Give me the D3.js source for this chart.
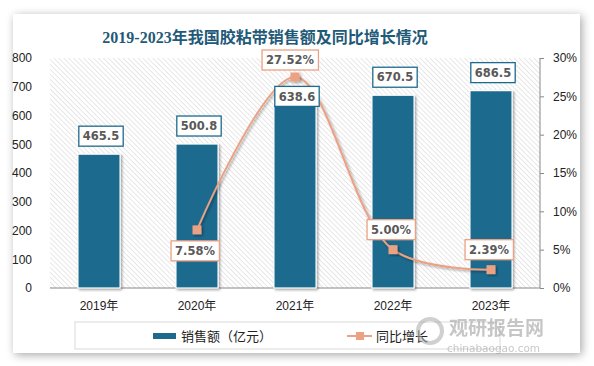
<!DOCTYPE html>
<html>
<head>
<meta charset="utf-8">
<script src="https://cdn.jsdelivr.net/npm/d3@7"></script>
<style>
  body { margin: 0; background: #fff; }
  svg { display: block; }
</style>
</head>
<body>
<svg id="chart" width="594" height="366"></svg>
<script>
// data
const years     = ["2019年", "2020年", "2021年", "2022年", "2023年"];
const sales     = [465.5, 500.8, 638.6, 670.5, 686.5];
const growth    = [null, 7.58, 27.52, 5.00, 2.39];
const leftTicks  = [0, 100, 200, 300, 400, 500, 600, 700, 800];
const rightTicks = [0, 5, 10, 15, 20, 25, 30];

const barColor  = "#1d6a8e";
const lineColor = "#eba183";

const svg = d3.select("#chart");
const defs = svg.append("defs");

// card shadow
const f = defs.append("filter").attr("id", "shadow")
  .attr("x", "-10%").attr("y", "-10%").attr("width", "120%").attr("height", "120%");
f.append("feGaussianBlur").attr("in", "SourceAlpha").attr("stdDeviation", 5);
f.append("feOffset").attr("dx", 2).attr("dy", 2).attr("result", "b");
f.append("feComponentTransfer").append("feFuncA").attr("type", "linear").attr("slope", 0.35);
const fm = f.append("feMerge");
fm.append("feMergeNode");
fm.append("feMergeNode").attr("in", "SourceGraphic");

// small shadow for marks
const f2 = defs.append("filter").attr("id", "mshadow")
  .attr("x", "-30%").attr("y", "-30%").attr("width", "160%").attr("height", "160%");
f2.append("feDropShadow").attr("dx", 1.5).attr("dy", 1.5).attr("stdDeviation", 1.2)
  .attr("flood-color", "#000").attr("flood-opacity", 0.35);

// hatch pattern
const pat = defs.append("pattern").attr("id", "hatch")
  .attr("patternUnits", "userSpaceOnUse").attr("width", 3.5).attr("height", 3.5)
  .attr("patternTransform", "rotate(-45)");
pat.append("line").attr("x1", 0).attr("y1", 0).attr("x2", 0).attr("y2", 3.5)
  .attr("stroke", "#cfcfcf").attr("stroke-width", 1);

// card
svg.append("rect")
  .attr("x", 13).attr("y", 14).attr("width", 567).attr("height", 339)
  .attr("fill", "#fff").attr("filter", "url(#shadow)");

// title
svg.append("text")
  .attr("x", 265).attr("y", 43)
  .attr("text-anchor", "middle")
  .style("font-family", "'Liberation Serif', 'Noto Sans CJK SC', serif")
  .style("font-size", "16px")
  .style("font-weight", "bold")
  .attr("fill", "#1f5a78")
  .text("2019-2023年我国胶粘带销售额及同比增长情况");

// plot area
const margin = { top: 58, left: 50, right: 540, bottom: 288 };
const x = d3.scaleBand().domain(years).range([margin.left, margin.right]).paddingInner(0.57).paddingOuter(0.285);
const y = d3.scaleLinear().domain([0, 800]).range([margin.bottom, margin.top]);
const y2 = d3.scaleLinear().domain([0, 30]).range([margin.bottom, margin.top]);

svg.append("rect")
  .attr("x", margin.left).attr("y", margin.top)
  .attr("width", margin.right - margin.left).attr("height", margin.bottom - margin.top)
  .attr("fill", "url(#hatch)");

// axes
const font = "'Liberation Sans', Arial, sans-serif";
const leftAxis = svg.append("g")
  .attr("transform", `translate(${margin.left},0)`)
  .call(d3.axisLeft(y).tickValues(leftTicks).tickSize(0).tickPadding(18));
leftAxis.select(".domain").remove();
leftAxis.selectAll("text").style("font-family", font).style("font-size", "12px").attr("fill", "#222");

const rightAxis = svg.append("g")
  .attr("transform", `translate(${margin.right},0)`)
  .call(d3.axisRight(y2).tickValues(rightTicks).tickSize(4).tickPadding(9).tickFormat(d => d + "%"));
rightAxis.select(".domain").attr("stroke", "#888").attr("d", `M0,${margin.top}V${margin.bottom}`);
rightAxis.selectAll("line").attr("stroke", "#888");
rightAxis.selectAll("text").style("font-family", font).style("font-size", "12px").attr("fill", "#222");

// baseline
svg.append("line")
  .attr("x1", margin.left).attr("x2", margin.right)
  .attr("y1", margin.bottom).attr("y2", margin.bottom)
  .attr("stroke", "#888");

// x labels
svg.append("g").selectAll("text")
  .data(years)
  .join("text")
    .attr("x", d => x(d) + x.bandwidth() / 2)
    .attr("y", 310)
    .attr("text-anchor", "middle")
    .style("font-family", "'Liberation Sans', 'Noto Sans CJK SC', sans-serif")
    .style("font-size", "12px")
    .attr("fill", "#222")
    .text(d => d);

// bars
svg.append("g").selectAll("rect")
  .data(sales)
  .join("rect")
    .attr("x", (d, i) => x(years[i]))
    .attr("y", d => y(d))
    .attr("width", x.bandwidth())
    .attr("height", d => y(0) - y(d))
    .attr("fill", barColor)
    .attr("stroke", "#fff")
    .attr("stroke-width", 1.2)
    .attr("filter", "url(#mshadow)");

// growth line
const pts = growth.map((g, i) => ({ g, i })).filter(d => d.g != null);
const cx = d => x(years[d.i]) + x.bandwidth() / 2;
svg.append("path")
  .datum(pts)
  .attr("d", d3.line().x(cx).y(d => y2(d.g)).curve(d3.curveCatmullRom.alpha(0.5)))
  .attr("fill", "none")
  .attr("stroke", lineColor)
  .attr("stroke-width", 2)
  .attr("filter", "url(#mshadow)");

svg.append("g").selectAll("rect")
  .data(pts)
  .join("rect")
    .attr("x", d => cx(d) - 4.5)
    .attr("y", d => y2(d.g) - 4.5)
    .attr("width", 9).attr("height", 9)
    .attr("fill", lineColor)
    .attr("filter", "url(#mshadow)");

// label helper
function labelBox(g, cxv, cyv, text, stroke) {
  const t = g.append("text")
    .attr("x", cxv).attr("y", cyv)
    .attr("text-anchor", "middle")
    .attr("dy", "0.36em")
    .style("font-family", "'DejaVu Sans', sans-serif")
    .style("font-size", "11.5px")
    .style("font-weight", "bold")
    .attr("fill", "#595959")
    .text(text);
  const bb = t.node().getBBox();
  g.insert("rect", "text")
    .attr("x", bb.x - 4).attr("y", cyv - 10)
    .attr("width", bb.width + 8).attr("height", 20)
    .attr("fill", "#fff")
    .attr("stroke", stroke)
    .attr("stroke-width", 1.3);
}

// bar value labels (2021 label pushed down, line label sits above it)
const barLabels = svg.append("g");
sales.forEach((v, i) => {
  const off = i === 2 ? 8 : 18;
  const g = barLabels.append("g");
  labelBox(g, x(years[i]) + x.bandwidth() / 2 + 2, y(v) - off, d3.format(".1f")(v), barColor);
});

// growth labels
const lineLabels = svg.append("g");
pts.forEach(d => {
  const off = d.i === 1 ? -21 : (d.i === 2 ? 17 : 20);
  const dx = d.i === 2 ? -5 : -2;
  const g = lineLabels.append("g");
  labelBox(g, cx(d) + dx, y2(d.g) - off, d3.format(".2f")(d.g) + "%", lineColor);
});

// legend
const lg = svg.append("g");
lg.append("rect")
  .attr("x", 75).attr("y", 322).attr("width", 425).attr("height", 27)
  .attr("fill", "#fff").attr("stroke", "#d9d9d9").attr("stroke-width", 1);
lg.append("rect")
  .attr("x", 153).attr("y", 333).attr("width", 23).attr("height", 6)
  .attr("fill", barColor);
lg.append("text")
  .attr("x", 181).attr("y", 336).attr("dy", "0.35em")
  .style("font-family", "'Noto Sans CJK SC', sans-serif")
  .style("font-size", "13px")
  .attr("fill", "#222")
  .text("销售额（亿元）");
lg.append("line")
  .attr("x1", 347).attr("x2", 372).attr("y1", 336).attr("y2", 336)
  .attr("stroke", lineColor).attr("stroke-width", 2);
lg.append("rect")
  .attr("x", 356).attr("y", 332).attr("width", 8).attr("height", 8)
  .attr("fill", lineColor);
lg.append("text")
  .attr("x", 376).attr("y", 336).attr("dy", "0.35em")
  .style("font-family", "'Noto Sans CJK SC', sans-serif")
  .style("font-size", "13px")
  .attr("fill", "#222")
  .text("同比增长");

// watermark
const wm = svg.append("g").attr("opacity", 0.55);
wm.append("circle").attr("cx", 430).attr("cy", 331).attr("r", 12)
  .attr("fill", "none").attr("stroke", "#aaa").attr("stroke-width", 4);
wm.append("text")
  .attr("x", 449).attr("y", 335)
  .style("font-family", "'Noto Sans CJK SC', sans-serif")
  .style("font-size", "19px").style("font-weight", "bold")
  .attr("fill", "#999")
  .text("观研报告网");
wm.append("text")
  .attr("x", 447).attr("y", 352)
  .style("font-family", "'DejaVu Sans', sans-serif")
  .style("font-size", "10.5px")
  .attr("fill", "#999")
  .text("chinabaogao.com");
</script>
</body>
</html>
